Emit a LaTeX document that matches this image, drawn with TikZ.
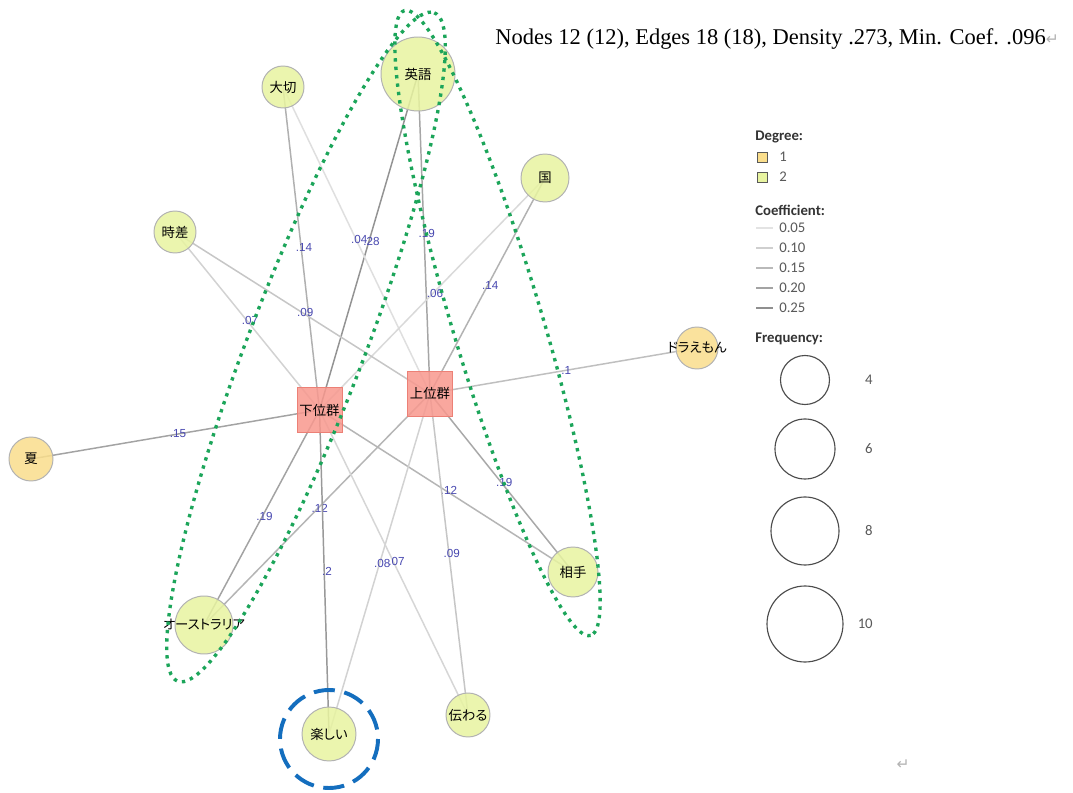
\documentclass[tikz,border=0pt]{standalone}
\usepackage{fontspec}
\setmainfont{Liberation Serif}
\newfontfamily\jpfont{Noto Sans CJK JP}[RawFeature=+palt]
\newfontfamily\legfont{Carlito}
\newfontfamily\labfont{Liberation Sans}
\newfontfamily\symfont{DejaVu Sans}
\usetikzlibrary{backgrounds}

\definecolor{wordfill}{RGB}{232,244,160}
\definecolor{leaffill}{RGB}{250,222,140}
\definecolor{groupfill}{RGB}{248,152,142}
\definecolor{groupline}{RGB}{236,128,118}
\definecolor{coeflab}{RGB}{72,72,176}
\definecolor{clustgreen}{RGB}{28,165,90}
\definecolor{focusblue}{RGB}{20,110,190}

\begin{document}
\begin{tikzpicture}[x=0.025cm, y=-0.025cm,
    word/.style={circle, draw=gray!60, line width=0.7pt, fill=wordfill, fill opacity=0.85, text opacity=1,
                 inner sep=0pt, font=\jpfont\fontsize{9.5}{11}\selectfont},
    leaf/.style={word, fill=leaffill},
    group/.style={rectangle, draw=groupline, line width=0.7pt, fill=groupfill, fill opacity=0.85, text opacity=1,
                  minimum size=1.125cm, inner sep=0pt, font=\jpfont\fontsize{9.5}{11}\selectfont},
    link/.style={line width=1.05pt},
    coef/.style={font=\labfont\fontsize{8.3}{9}\selectfont, text=coeflab, inner sep=0pt, xshift=2pt, yshift=0.5pt},
    cluster/.style={draw=clustgreen, line width=2.4pt, dash pattern=on 2.4pt off 3.6pt},
    focus/.style={draw=focusblue, line width=2.8pt, dash pattern=on 15pt off 6.9pt},
    legend head/.style={font=\legfont\bfseries\fontsize{10.5}{12}\selectfont, text=black!80, anchor=west, inner sep=0pt},
    legend text/.style={font=\legfont\fontsize{10.5}{12}\selectfont, text=black!65, anchor=west, inner sep=0pt}]
    \useasboundingbox (0,0) rectangle (1073,793);

    % Words
    \foreach \i/\name/\x/\y/\r/\kind in {1/英語/418/74/37/word, 2/大切/283/87/21/word, 3/国/545/178/24/word,
        4/時差/175/232/21/word, 5/ドラえもん/697/348/21/leaf, 6/夏/31/459/22/leaf,
        7/オーストラリア/204/625/29/word, 8/相手/573/572/25/word, 9/楽しい/329/734/27/word,
        10/伝わる/468/715/22/word} {
        \node[\kind, minimum size=2*\r*0.025cm] (Word-\i) at (\x,\y) {\makebox[0pt]{\name}};
    }

    % Groups
    \node[group] (Group-1) at (319.5,410) {下位群};
    \node[group] (Group-2) at (430,393.5) {上位群};

    % Edges
    \begin{pgfonlayer}{background}
    \fill[white] (0,0) rectangle (1073,793);
    \foreach \i/\g/\val/\tone in {1/1/.28/85, 1/2/.19/70, 2/1/.14/62, 2/2/.04/25, 3/1/.06/30, 3/2/.14/60,
        4/1/.07/35, 4/2/.09/45, 5/2/.1/50, 6/1/.15/72, 7/1/.19/72, 7/2/.12/58,
        8/1/.12/58, 8/2/.19/68, 9/1/.2/80, 9/2/.08/35, 10/1/.07/32, 10/2/.09/45} {
        \draw[link, draw=gray!\tone] (Word-\i.center) -- (Group-\g.center) node[coef, midway] {\val};
    }
    \end{pgfonlayer}

    % Clusters
    \draw[cluster, rotate around={69:(306,347)}] (306,347) ellipse [x radius=358, y radius=58];
    \draw[cluster, rotate around={-73.4:(497.5,323)}] (497.5,323) ellipse [x radius=326, y radius=45];
    \draw[focus] (329,739) circle [radius=49];

    % Summary line
    \node[anchor=base west, inner sep=0pt, font=\fontsize{16}{19}\selectfont] (Summary) at (495,45)
        {Nodes 12 (12), Edges 18 (18), Density .273, Min. Coef. .096{\symfont\color{gray!60}\fontsize{11}{12}\selectfont ↵}};
    \node[text=gray!60, font=\symfont\fontsize{11}{12}\selectfont] (Mark) at (903,765) {↵};

    % Legend
    \node[legend head] (Degree) at (755,137) {Degree:};
    \foreach \i/\col/\y in {1/leaffill/157, 2/wordfill/177} {
        \node[draw=gray!70!black, line width=0.5pt, fill=\col, minimum size=0.25cm, inner sep=0pt] (Degree-\i) at (762.5,\y) {};
        \node[legend text] at (779,\y) {\i};
    }
    \node[legend head] (Coefficient) at (755,210) {Coefficient:};
    \foreach \i/\val/\tone/\y in {1/0.05/22/228, 2/0.10/38/248, 3/0.15/55/268, 4/0.20/72/288, 5/0.25/88/308} {
        \coordinate (Coef-\i-a) at (756,\y);
        \coordinate (Coef-\i-b) at (773,\y);
        \draw[link, draw=gray!\tone] (Coef-\i-a) -- (Coef-\i-b);
        \node[legend text] at (779,\y) {\val};
    }
    \node[legend head] (Frequency) at (755,339) {Frequency:};
    \foreach \i/\f/\y/\r in {1/4/380/24.5, 2/6/449/30, 3/8/531/34, 4/10/624/38} {
        \node[circle, draw=gray!60!black, line width=0.8pt, minimum size=2*\r*0.025cm, inner sep=0pt] (Freq-\i) at (805,\y) {};
        \node[legend text, anchor=east] at (873,\y) {\f};
    }
\end{tikzpicture}
\end{document}
